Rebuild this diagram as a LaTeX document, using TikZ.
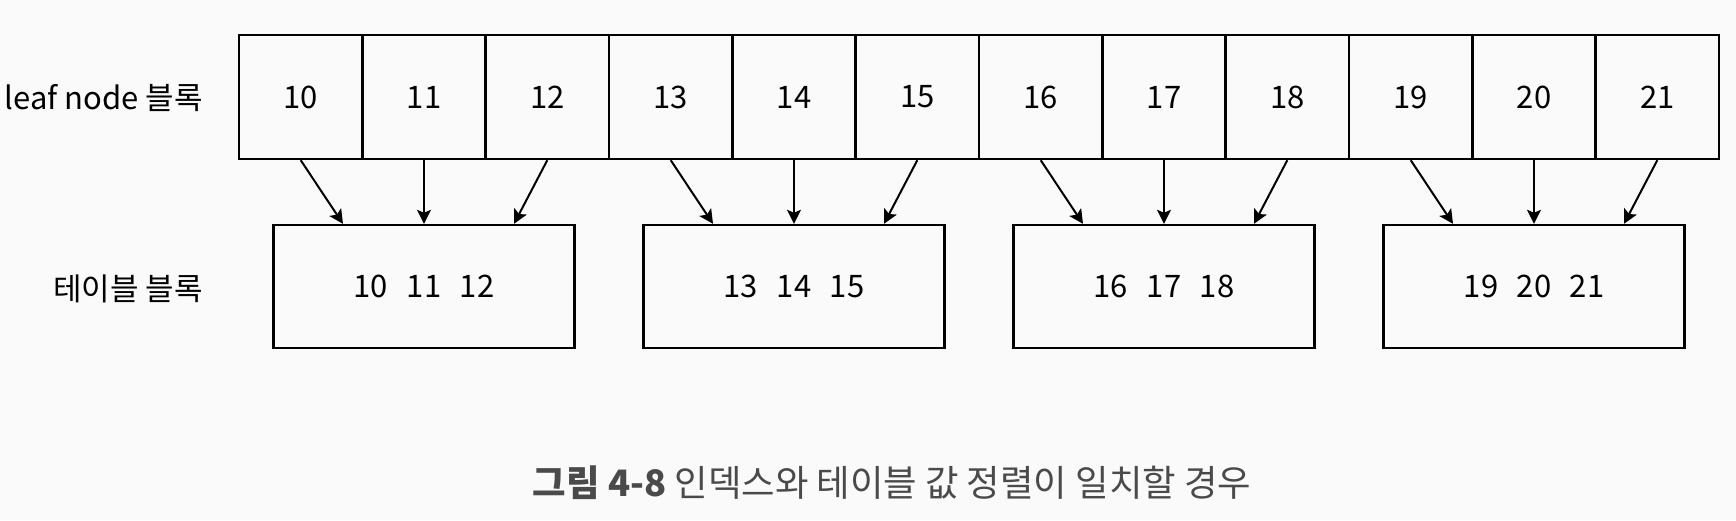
\documentclass[tikz,border=0pt]{standalone}
\usepackage{fontspec}
\setmainfont{Noto Sans CJK KR}
\usetikzlibrary{arrows.meta}
\definecolor{capgray}{HTML}{4A4A4A}
\begin{document}
\begin{tikzpicture}[x=0.5pt,y=0.5pt,
    cell/.style={draw, line width=1.2pt, minimum width=61.67pt, minimum height=62pt, inner sep=0pt, font=\fontsize{15.5}{18}\selectfont},
    tblock/.style={draw, line width=1.2pt, minimum width=150.5pt, minimum height=61.5pt, inner sep=0pt, font=\fontsize{15.5}{18}\selectfont},
    rowlabel/.style={anchor=east, inner sep=0pt, font=\fontsize{15.5}{18}\selectfont}]
  \fill[black!2] (0,0) rectangle (1736,520);
  \useasboundingbox (0,0) rectangle (1736,520);
  % leaf node cells
  \draw
    (300.7,423) node[cell] (10){10}
    (424.0,423) node[cell] (11){11}
    (547.3,423) node[cell] (12){12}
    (670.7,423) node[cell] (13){13}
    (794.0,423) node[cell] (14){14}
    (917.3,423) node[cell] (15){15}
    (1040.7,423) node[cell] (16){16}
    (1164.0,423) node[cell] (17){17}
    (1287.3,423) node[cell] (18){18}
    (1410.7,423) node[cell] (19){19}
    (1534.0,423) node[cell] (20){20}
    (1657.3,423) node[cell] (21){21};
  % table blocks
  \draw
    (424,233.5) node[tblock] (t1){10\hspace{0.6em}11\hspace{0.6em}12}
    (794,233.5) node[tblock] (t2){13\hspace{0.6em}14\hspace{0.6em}15}
    (1164,233.5) node[tblock] (t3){16\hspace{0.6em}17\hspace{0.6em}18}
    (1534,233.5) node[tblock] (t4){19\hspace{0.6em}20\hspace{0.6em}21};
  \node[rowlabel] (leaflabel) at (203,422) {leaf node 블록};
  \node[rowlabel] (tbllabel) at (203,231) {테이블 블록};
  \begin{scope}[line width=1pt, -{Stealth[length=7pt,width=7pt,inset=1.5pt]}]
    \draw (10.south) to ([xshift=-40.5pt]t1.north);
    \draw (11.south) to (t1.north);
    \draw (12.south) to ([xshift=45pt]t1.north);
    \draw (13.south) to ([xshift=-40.5pt]t2.north);
    \draw (14.south) to (t2.north);
    \draw (15.south) to ([xshift=45pt]t2.north);
    \draw (16.south) to ([xshift=-40.5pt]t3.north);
    \draw (17.south) to (t3.north);
    \draw (18.south) to ([xshift=45pt]t3.north);
    \draw (19.south) to ([xshift=-40.5pt]t4.north);
    \draw (20.south) to (t4.north);
    \draw (21.south) to ([xshift=45pt]t4.north);
  \end{scope}
  \node[text=capgray, font=\fontsize{18.2}{21}\selectfont] (caption) at (892,37)
    {{\bfseries 그림 4-8} 인덱스와 테이블 값 정렬이 일치할 경우};
\end{tikzpicture}
\end{document}
